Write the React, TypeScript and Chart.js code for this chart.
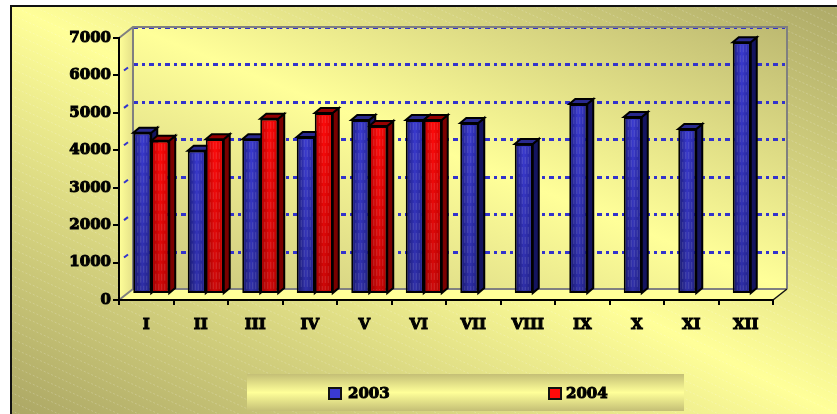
import React, { useEffect, useRef } from "react";
import { Chart, registerables } from "chart.js";

Chart.register(...registerables);

const months = ["I", "II", "III", "IV", "V", "VI", "VII", "VIII", "IX", "X", "XI", "XII"];
const series2003 = [4310, 3830, 4135, 4195, 4650, 4650, 4570, 4010, 5075, 4730, 4410, 6725];
const series2004 = [4095, 4135, 4680, 4835, 4490, 4650, null, null, null, null, null, null];
const seriesNames = ["2003", "2004"];
const yTicks = [0, 1000, 2000, 3000, 4000, 5000, 6000, 7000];

const FONT = '"DejaVu Serif", serif';
const W = 837, H = 414;
const BAR_DX = 5, BAR_DY = -6;   // bars sit in the middle of the chart depth
const DEPTH_X = 6, DEPTH_Y = 5;  // depth of each bar
const WALL_DX = 14, WALL_DY = -11; // back wall offset from the front axes

const palette = [
  { dark: "#1b1b7c", mid: "#3a3ad0", edge: "#26269c", side: "#14145f", top: "#29298e" },
  { dark: "#b80000", mid: "#ff0a0a", edge: "#d80000", side: "#7a0000", top: "#940000" },
];

function diagGradient(c: CanvasRenderingContext2D, x0: number, y0: number, x1: number, y1: number, edgeA: string, midC: string, edgeB: string) {
  const w = x1 - x0, h = y1 - y0;
  const len = Math.hypot(w, h);
  const ux = h / len, uy = -w / len;
  const cx = (x0 + x1) / 2, cy = (y0 + y1) / 2;
  const ext = (w / 2) * ux * 1 + (h / 2) * -uy;
  const g = c.createLinearGradient(cx - ext * ux, cy - ext * uy, cx + ext * ux, cy + ext * uy);
  g.addColorStop(0, edgeA);
  g.addColorStop(0.5, midC);
  g.addColorStop(1, edgeB);
  return g;
}

const scenePlugin = {
  id: "scene",
  beforeDraw(chart: any) {
    const c: CanvasRenderingContext2D = chart.ctx;
    const { left, right, top, bottom } = chart.chartArea;
    const y = chart.scales.y;
    c.save();
    c.fillStyle = "#ffffff";
    c.fillRect(0, 0, W, H);
    // card
    c.fillStyle = diagGradient(c, 11, 6, W, H, "#aca765", "#ffff99", "#aeaa68");
    c.fillRect(11, 6, W - 11, H - 6);
    c.save();
    c.beginPath();
    c.rect(12, 7, W - 12, H - 7);
    c.clip();
    c.strokeStyle = "rgba(255,255,255,0.2)";
    c.lineWidth = 1;
    c.setLineDash([2, 2]);
    for (let i = -60; i < 130; i++) {
      c.beginPath();
      c.moveTo(0, i * 9 + 0.5);
      c.lineTo(W, i * 9 + 0.5 + W * 0.45);
      c.stroke();
    }
    c.restore();
    c.fillStyle = "#111";
    c.fillRect(10, 5, W - 10, 2);
    c.fillRect(10, 5, 2, H - 5);

    // side wall, floor, back wall
    const tl = left + WALL_DX, tt = top + WALL_DY, tr = right + WALL_DX, tb = bottom + WALL_DY;
    const side = c.createLinearGradient(left, 0, tl, 0);
    side.addColorStop(0, "#ffff99");
    side.addColorStop(1, "#e4e088");
    c.fillStyle = side;
    c.beginPath();
    c.moveTo(left, top); c.lineTo(tl, tt); c.lineTo(tl, tb); c.lineTo(left, bottom);
    c.closePath(); c.fill();

    c.fillStyle = diagGradient(c, tl, tt, tr, tb, "#c8c47c", "#ffff99", "#bdb971");
    c.fillRect(tl, tt, tr - tl, tb - tt);

    c.fillStyle = "#ffff99";
    c.beginPath();
    c.moveTo(left, bottom); c.lineTo(tl, tb); c.lineTo(tr, tb); c.lineTo(right, bottom);
    c.closePath(); c.fill();

    // grid on back wall and side wall
    c.strokeStyle = "#3333cc";
    c.lineWidth = 3;
    c.setLineDash([5, 4, 3, 4]);
    yTicks.forEach((v) => {
      if (v === 0) return;
      const py = Math.round(y.getPixelForValue(v) + WALL_DY) + 0.5;
      c.beginPath();
      c.moveTo(tl, py);
      c.lineTo(tr, py);
      c.stroke();
    });
    c.setLineDash([]);
    c.lineWidth = 2;
    yTicks.forEach((v) => {
      if (v === 0 || v === 7000) return;
      const py = y.getPixelForValue(v);
      c.beginPath();
      c.moveTo(left + 5, py - 5);
      c.lineTo(left + 9, py - 8);
      c.stroke();
    });

    // wall edges
    c.strokeStyle = "#808080";
    c.lineWidth = 2;
    c.beginPath();
    c.moveTo(left, top); c.lineTo(tl, tt); c.lineTo(tr, tt); c.lineTo(tr, tb);
    c.moveTo(tl, tt); c.lineTo(tl, tb); c.lineTo(tr, tb);
    c.moveTo(left, bottom); c.lineTo(tl, tb);
    c.stroke();
    c.strokeStyle = "#111";
    c.lineWidth = 1.5;
    c.beginPath();
    c.moveTo(right, bottom); c.lineTo(tr, tb);
    c.stroke();

    // legend band
    const lx = 247, ly = 374, lw = 437, lh = 37;
    const band = c.createLinearGradient(0, ly, 0, ly + lh);
    band.addColorStop(0, "#c4bf76");
    band.addColorStop(0.5, "#ffff99");
    band.addColorStop(1, "#c4bf76");
    c.fillStyle = band;
    c.fillRect(lx, ly, lw, lh);
    const itemX = [329, 549];
    const textX = [348, 566];
    seriesNames.forEach((name, i) => {
      c.fillStyle = palette[i].mid;
      c.fillRect(itemX[i], 388, 12, 11);
      c.strokeStyle = "#111";
      c.lineWidth = 2;
      c.strokeRect(itemX[i], 388, 12, 11);
      c.font = `bold 15px ${FONT}`;
      c.textBaseline = "middle";
      c.textAlign = "left";
      c.fillStyle = "#000";
      c.strokeStyle = "#000";
      c.lineWidth = 1;
      c.fillText(name, textX[i], 394);
      c.strokeText(name, textX[i], 394);
    });
    c.restore();
  },
  beforeDatasetsDraw(chart: any) {
    const c: CanvasRenderingContext2D = chart.ctx;
    c.save();
    c.translate(BAR_DX, BAR_DY);
    // depth faces go first so the front faces cover them
    chart.data.datasets.forEach((ds: any, di: number) => {
      const meta = chart.getDatasetMeta(di);
      meta.data.forEach((el: any, i: number) => {
        if (ds.data[i] == null) return;
        const { x, y, base, width } = el.getProps(["x", "y", "base", "width"], true);
        const l = x - width / 2, r = x + width / 2;
        c.lineWidth = 2;
        c.strokeStyle = "#000";
        c.fillStyle = palette[di].side;
        c.beginPath();
        c.moveTo(r, y); c.lineTo(r + DEPTH_X, y - DEPTH_Y);
        c.lineTo(r + DEPTH_X, base - DEPTH_Y); c.lineTo(r, base);
        c.closePath(); c.fill(); c.stroke();
        c.fillStyle = palette[di].top;
        c.beginPath();
        c.moveTo(l, y); c.lineTo(l + DEPTH_X, y - DEPTH_Y);
        c.lineTo(r + DEPTH_X, y - DEPTH_Y); c.lineTo(r, y);
        c.closePath(); c.fill(); c.stroke();
      });
    });
  },
  afterDatasetsDraw(chart: any) {
    const c: CanvasRenderingContext2D = chart.ctx;
    chart.data.datasets.forEach((ds: any, di: number) => {
      const meta = chart.getDatasetMeta(di);
      meta.data.forEach((el: any, i: number) => {
        if (ds.data[i] == null) return;
        const { x, y, base, width } = el.getProps(["x", "y", "base", "width"], true);
        const l = x - width / 2;
        // shaded front face plus thin hatch
        const g = c.createLinearGradient(l, 0, l + width, 0);
        g.addColorStop(0, palette[di].dark);
        g.addColorStop(0.5, palette[di].mid);
        g.addColorStop(1, palette[di].edge);
        c.fillStyle = g;
        c.fillRect(l + 2, y + 2, width - 4, base - y - 4);
        const shade = c.createLinearGradient(0, y, 0, base);
        shade.addColorStop(0, "rgba(0,0,0,0)");
        shade.addColorStop(1, "rgba(0,0,0,0.2)");
        c.fillStyle = shade;
        c.fillRect(l + 2, y + 2, width - 4, base - y - 4);
        c.strokeStyle = "rgba(255,255,255,0.14)";
        c.lineWidth = 1;
        c.setLineDash([7, 3]);
        for (let k = 4; k < width - 3; k += 3) {
          c.beginPath();
          c.moveTo(l + k + 0.5, y + 3);
          c.lineTo(l + k + 0.5, base - 3);
          c.stroke();
        }
        c.setLineDash([]);
      });
    });
    c.restore();
  },
};

export default function App() {
  const ref = useRef<HTMLCanvasElement>(null);
  useEffect(() => {
    const chart = new Chart(ref.current as HTMLCanvasElement, {
      type: "bar",
      data: {
        labels: months,
        datasets: [
          { label: seriesNames[0], data: series2003, backgroundColor: palette[0].mid, borderColor: "#000", borderWidth: 2, borderSkipped: false, categoryPercentage: 0.66, barPercentage: 1, clip: false },
          { label: seriesNames[1], data: series2004, backgroundColor: palette[1].mid, borderColor: "#000", borderWidth: 2, borderSkipped: false, categoryPercentage: 0.66, barPercentage: 1, clip: false },
        ] as any,
      },
      options: {
        animation: false,
        responsive: false,
        layout: { padding: { left: 0, top: 38, right: 64, bottom: 0 } },
        plugins: { legend: { display: false }, tooltip: { enabled: false }, title: { display: false } },
        scales: {
          x: {
            grid: { display: true, drawOnChartArea: false, drawTicks: true, tickLength: 5, color: "#000", lineWidth: 2 },
            border: { display: true, color: "#000", width: 2 },
            ticks: { color: "#000", font: { family: FONT, weight: "bold", size: 15 }, padding: 11, maxRotation: 0, autoSkip: false, textStrokeColor: "#000", textStrokeWidth: 1 },
            afterFit(s: any) { s.height = 114; },
          },
          y: {
            min: 0,
            max: 7000,
            grid: { display: true, drawOnChartArea: false, drawTicks: true, tickLength: 6, color: "#000", lineWidth: 2 },
            border: { display: true, color: "#000", width: 2 },
            ticks: { stepSize: 1000, color: "#000", font: { family: FONT, weight: "bold", size: 15 }, padding: 2, textStrokeColor: "#000", textStrokeWidth: 1, callback: (v: any) => String(v) },
            afterFit(s: any) { s.width = 119; },
          },
        },
      } as any,
      plugins: [scenePlugin],
    });
    return () => chart.destroy();
  }, []);
  return (
    <div style={{ position: "absolute", left: 0, top: 0, width: W, height: H, overflow: "hidden" }}>
      <canvas ref={ref} width={W} height={H} style={{ display: "block" }} />
    </div>
  );
}
